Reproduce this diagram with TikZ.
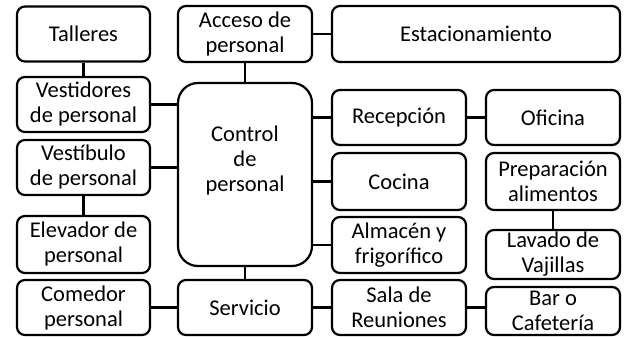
\documentclass[tikz,border=0pt]{standalone}
\usepackage{fontspec}
\setmainfont{Carlito}
\usepackage{tikz}
\usetikzlibrary{calc,positioning}

\tikzset{
  room/.style={draw,line width=2.2pt,rounded corners=8pt,align=center,
    minimum width=133pt,minimum height=55pt,inner sep=0pt,
    font=\fontsize{22.5}{25}\selectfont},
  link/.style={line width=2.2pt}
}

\begin{document}
\begin{tikzpicture}[x=1pt,y=-1pt]
\useasboundingbox (0,0) rectangle (627,337);

% left column
\node[room] (talleres) at (83.5,34) {Talleres};
\node[room] (vestidores) at (83.5,104.5) {Vestidores\\de personal};
\node[room] (vestibulo) at (83.5,167.5) {Vestíbulo\\de personal};
\node[room,minimum height=57pt] (elevador) at (83.5,244.5) {Elevador de\\personal};
\node[room] (comedor) at (83.5,307.5) {Comedor\\personal};

% middle column
\node[room,minimum width=134pt,minimum height=56pt] (acceso) at (245,34) {Acceso de\\personal};
\node[room,minimum width=134pt,minimum height=183pt,rounded corners=20pt] (control) at (245,174.5) {};
\node[align=center,font=\fontsize{22.5}{25}\selectfont] (controltxt) at (245,161) {Control\\de\\personal};
\node[room,minimum width=134pt] (servicio) at (245,307.5) {Servicio};

% right side
\node[room,minimum width=288pt,minimum height=56pt] (estac) at (476,34) {Estacionamiento};
\node[room,minimum width=134pt] (recepcion) at (399,117.5) {Recepción};
\node[room,minimum width=134pt,minimum height=57pt] (cocina) at (399,181.5) {Cocina};
\node[room,minimum width=134pt,minimum height=56pt] (almacen) at (399,245) {Almacén y\\frigorífico};
\node[room,minimum width=134pt] (sala) at (399,307.5) {Sala de\\Reuniones};
\node[room,minimum width=134pt] (oficina) at (553,117.5) {Oficina};
\node[room,minimum width=134pt,minimum height=57pt] (prep) at (553,181.5) {Preparación\\alimentos};
\node[room,minimum width=134pt,minimum height=49pt] (lavado) at (553,254.5) {Lavado de\\Vajillas};
\node[room,minimum width=134pt,minimum height=48pt] (bar) at (553,311) {Bar o\\Cafetería};

% connections
\draw[link] (talleres) -- (vestidores);
\draw[link] (vestibulo) -- (elevador);
\draw[link] (vestidores) -- (vestidores -| control.west);
\draw[link] (vestibulo) -- (vestibulo -| control.west);
\draw[link] (acceso) -- (control);
\draw[link] (acceso) -- (estac);
\draw[link] (control.east |- recepcion) -- (recepcion);
\draw[link] (control.east |- cocina) -- (cocina);
\draw[link] (control.east |- almacen) -- (almacen);
\draw[link] (recepcion) -- (oficina);
\draw[link] (prep) -- (lavado);
\draw[link] (control) -- (servicio);
\draw[link] (comedor) -- (servicio);
\draw[link] (servicio) -- (sala);
\draw[link] (sala) -- (sala -| bar.west);

\end{tikzpicture}
\end{document}
